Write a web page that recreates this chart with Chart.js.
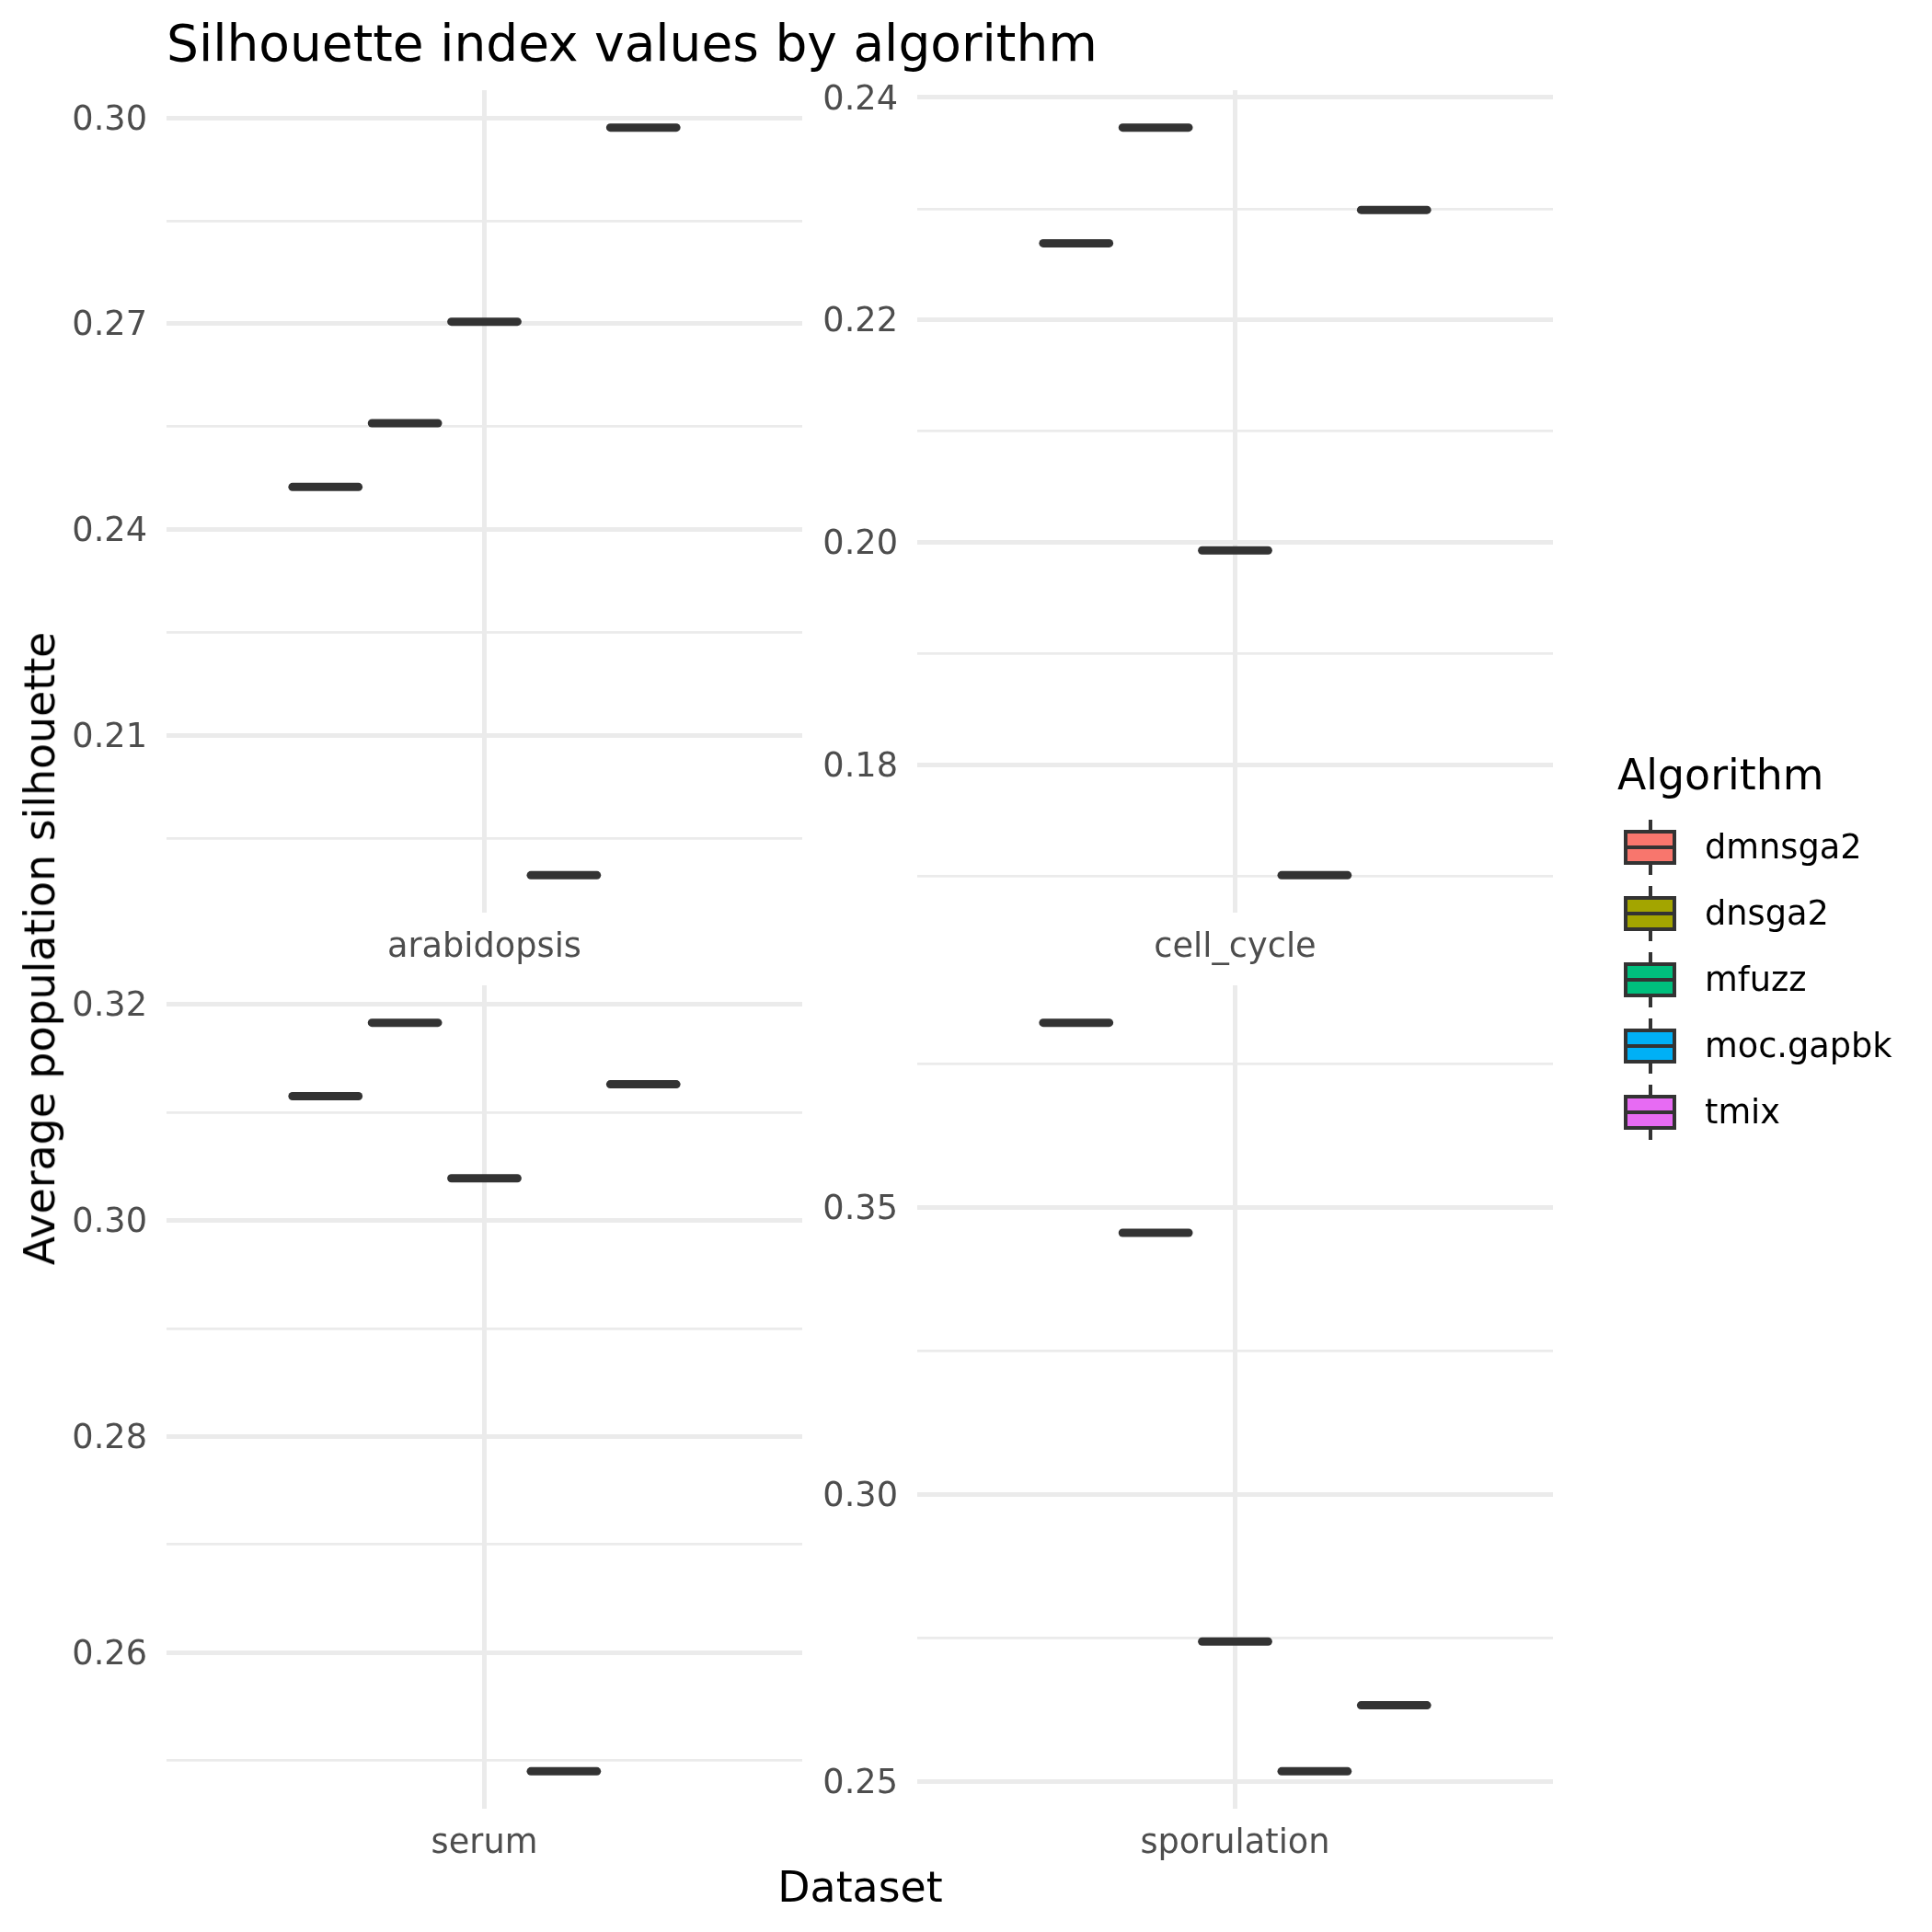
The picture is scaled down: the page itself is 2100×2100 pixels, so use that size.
<!DOCTYPE html>
<html>
<head>
<meta charset="utf-8">
<script src="https://cdn.jsdelivr.net/npm/chart.js@4.4.1/dist/chart.umd.min.js"></script>
<style>
html,body{margin:0;padding:0;background:#ffffff;}
#wrap{position:relative;width:2100px;height:2100px;overflow:hidden;background:#ffffff;font-family:'DejaVu Sans',sans-serif;}
#wrap canvas{position:absolute;left:0;top:0;width:2100px;height:2100px;}
.txt{position:absolute;white-space:nowrap;line-height:1;}
.blk{position:absolute;box-sizing:border-box;}
</style>
</head>
<body>
<div id="wrap">
  <canvas id="c0" width="2100" height="2100"></canvas>
  <canvas id="c1" width="2100" height="2100"></canvas>
  <canvas id="c2" width="2100" height="2100"></canvas>
  <canvas id="c3" width="2100" height="2100"></canvas>
  <div class="txt" id="title" style="left:181px;top:20px;font-size:55px;color:#000;">Silhouette index values by algorithm</div>
  <div class="txt" id="ytitle" style="left:44px;top:1031px;font-size:45.8px;color:#000;transform:translate(-50%,-50%) rotate(-90deg);">Average population silhouette</div>
  <div class="txt" id="xtitle" style="left:935px;top:2029px;font-size:45.8px;color:#000;transform:translateX(-50%);">Dataset</div>
  <div class="txt" id="legtitle" style="left:1758px;top:820px;font-size:45.8px;color:#000;">Algorithm</div>
</div>
<script>
// ---------------- data ----------------
const algorithms = ['dmnsga2', 'dnsga2', 'mfuzz', 'moc.gapbk', 'tmix'];
const algorithmColors = ['#F8766D', '#A3A500', '#00BF7D', '#00B0F6', '#E76BF3'];
const datasetNames = ['arabidopsis', 'cell_cycle', 'serum', 'sporulation'];

// average population silhouette per algorithm (order as in `algorithms`)
const arabidopsisValues = [0.2462, 0.2555, 0.2703, 0.1896, 0.2986];
const cellCycleValues   = [0.2269, 0.2373, 0.1993, 0.1701, 0.2299];
const serumValues       = [0.3115, 0.3183, 0.3039, 0.2490, 0.3126];
const sporulationValues = [0.3822, 0.3456, 0.2744, 0.2518, 0.2633];

// labelled y ticks per panel
const arabidopsisTicks = [0.21, 0.24, 0.27, 0.30];
const cellCycleTicks   = [0.18, 0.20, 0.22, 0.24];
const serumTicks       = [0.26, 0.28, 0.30, 0.32];
const sporulationTicks = [0.25, 0.30, 0.35];

// ---------------- layout / style ----------------
const PANELS = [
  {left: 181, right: 872,  top: 98,   bottom: 992},
  {left: 997, right: 1688, top: 98,   bottom: 992},
  {left: 181, right: 872,  top: 1071, bottom: 1966},
  {left: 997, right: 1688, top: 1071, bottom: 1966}
];
const Y_AXIS_W = 150;
const X_AXIS_H = 70;
const DODGE_W = 0.75;
const BOX_FRAC = 0.9;
const LINE_W = 9;
const GRID = '#EBEBEB';
const FONT = 'DejaVu Sans';

const roundCaps = {
  id: 'roundCaps',
  beforeDatasetsDraw(chart) { chart.ctx.lineCap = 'round'; }
};

function makePanel(canvasId, name, values, ticks, rect) {
  const lo = Math.min(...values), hi = Math.max(...values);
  const expand = (hi - lo) * 0.05;
  const yMin = lo - expand, yMax = hi + expand;
  const step = ticks[1] - ticks[0];
  const tickObjs = [];
  ticks.forEach(t => tickObjs.push({value: t, isMajor: true}));
  ticks.forEach(t => tickObjs.push({value: t - step / 2, isMajor: false}));
  tickObjs.push({value: ticks[ticks.length - 1] + step / 2, isMajor: false});
  const yTicks = tickObjs.filter(t => t.value >= yMin && t.value <= yMax).sort((a, b) => a.value - b.value);

  const n = algorithms.length;
  const slot = DODGE_W / n;
  const boxW = slot * BOX_FRAC;
  const ds = algorithms.map((alg, i) => ({
    label: alg,
    data: [{x: 1 + (i - (n - 1) / 2) * slot, y: values[i]}],
    showLine: false,
    pointStyle: 'line',
    pointRadius: (c) => {
      const s = c.chart.scales.x;
      return Math.abs(s.getPixelForValue(1 + boxW / 2) - s.getPixelForValue(1)) - LINE_W / 3;
    },
    pointHoverRadius: 0,
    pointBorderWidth: LINE_W,
    pointBorderColor: '#333333',
    pointBackgroundColor: algorithmColors[i]
  }));

  return new Chart(document.getElementById(canvasId), {
    type: 'scatter',
    data: {datasets: ds},
    plugins: [roundCaps],
    options: {
      responsive: false,
      devicePixelRatio: 1,
      animation: false,
      events: [],
      layout: {
        padding: {
          left: rect.left - Y_AXIS_W,
          top: rect.top,
          right: 2100 - rect.right,
          bottom: 2100 - rect.bottom - X_AXIS_H
        }
      },
      plugins: {legend: {display: false}, title: {display: false}, tooltip: {enabled: false}},
      scales: {
        x: {
          type: 'linear',
          min: 0.4, max: 1.6,
          afterBuildTicks: s => { s.ticks = [{value: 1}]; },
          afterFit: s => { s.height = X_AXIS_H; },
          border: {display: false},
          grid: {color: GRID, lineWidth: 5, drawTicks: false},
          ticks: {
            autoSkip: false, maxRotation: 0, minRotation: 0, padding: 16,
            color: '#4D4D4D', font: {family: FONT, size: 36.7},
            callback: () => name
          }
        },
        y: {
          type: 'linear',
          min: yMin, max: yMax,
          afterBuildTicks: s => { s.ticks = yTicks.map(t => ({value: t.value, isMajor: t.isMajor})); },
          afterFit: s => { s.width = Y_AXIS_W; },
          border: {display: false},
          grid: {
            color: GRID,
            drawTicks: false,
            lineWidth: c => (c.tick && c.tick.isMajor) ? 5 : 2.8
          },
          ticks: {
            autoSkip: false, padding: 21, labelOffset: 3,
            color: '#4D4D4D', font: {family: FONT, size: 36.7},
            callback: function(v, i) { return this.ticks[i].isMajor ? v.toFixed(2) : ''; }
          }
        }
      }
    }
  });
}

makePanel('c0', datasetNames[0], arabidopsisValues, arabidopsisTicks, PANELS[0]);
makePanel('c1', datasetNames[1], cellCycleValues, cellCycleTicks, PANELS[1]);
makePanel('c2', datasetNames[2], serumValues, serumTicks, PANELS[2]);
makePanel('c3', datasetNames[3], sporulationValues, sporulationTicks, PANELS[3]);

// ---------------- legend ----------------
const wrap = document.getElementById('wrap');
const LEG = {left: 1765, first: 921, gap: 72, keyW: 57, boxH: 38, whisk: 30, lw: 4, textLeft: 1853, fs: 36.7};
function addDiv(cls, style, text) {
  const d = document.createElement('div');
  d.className = cls;
  Object.assign(d.style, style);
  if (text !== undefined) d.textContent = text;
  wrap.appendChild(d);
  return d;
}
algorithms.forEach((alg, i) => {
  const cy = LEG.first + i * LEG.gap;
  addDiv('blk', {left: (LEG.left + LEG.keyW / 2 - LEG.lw / 2) + 'px', top: (cy - LEG.whisk) + 'px',
    width: LEG.lw + 'px', height: (2 * LEG.whisk) + 'px', background: '#333333'});
  addDiv('blk', {left: LEG.left + 'px', top: (cy - LEG.boxH / 2) + 'px', width: LEG.keyW + 'px',
    height: LEG.boxH + 'px', border: LEG.lw + 'px solid #333333', background: algorithmColors[i]});
  addDiv('blk', {left: LEG.left + 'px', top: (cy - LEG.lw / 2) + 'px', width: LEG.keyW + 'px',
    height: LEG.lw + 'px', background: '#333333'});
  addDiv('txt', {left: LEG.textLeft + 'px', top: (cy - LEG.fs / 2) + 'px', fontSize: LEG.fs + 'px', color: '#000'}, alg);
});
</script>
</body>
</html>
